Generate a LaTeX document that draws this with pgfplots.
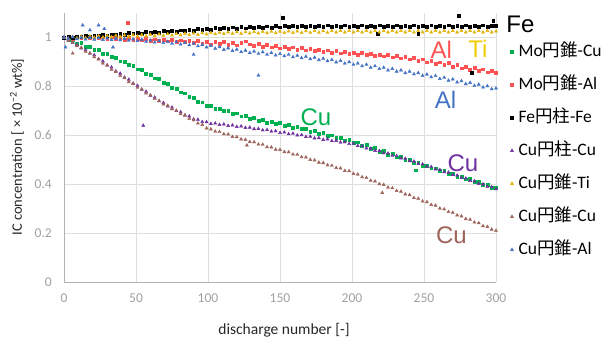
\documentclass[border=0pt]{standalone}
\usepackage{fontspec}
\setmainfont{Carlito}
\newfontfamily\cjk{Noto Sans CJK JP}
\newfontfamily\arial{Liberation Sans}
\usepackage{pgfplots}
\pgfplotsset{compat=1.18}
\definecolor{cgreen}{RGB}{0,176,80}
\definecolor{cred}{RGB}{255,82,82}
\definecolor{cpurple}{RGB}{112,48,160}
\definecolor{cgold}{RGB}{226,176,0}
\definecolor{cti}{RGB}{240,205,0}
\definecolor{cbrown}{RGB}{158,100,90}
\definecolor{cblue}{RGB}{68,114,196}
\definecolor{cgrid}{RGB}{222,222,222}
\definecolor{ctick}{RGB}{160,160,160}
\begin{document}
\begin{tikzpicture}
\useasboundingbox (0,0) rectangle (601pt,340pt);
\begin{axis}[
  at={(64pt,58pt)}, anchor=south west, scale only axis,
  width=432pt, height=269pt,
  xmin=0, xmax=300, ymin=0, ymax=1.1,
  xtick={0,50,100,150,200,250,300},
  xticklabels={0,50,100,150,200,250,300},
  ytick={0,0.2,0.4,0.6,0.8,1},
  yticklabels={0,0.2,0.4,0.6,0.8,1},
  axis lines*=left,
  axis line style={draw=cgrid!80!black, -},
  grid=major, grid style={cgrid, line width=0.8pt},
  major tick length=0pt,
  xticklabel style={font=\fontsize{13.5}{15}\selectfont, text=ctick, anchor=center, inner sep=0pt, yshift=-16pt},
  yticklabel style={font=\fontsize{13.5}{15}\selectfont, text=ctick, anchor=east, inner sep=0pt, xshift=-12pt},
  clip mode=individual,
  legend cell align=left,
  legend style={at={(1.026,0.896)}, anchor=north west, draw=none, fill=none,
    font=\fontsize{17.5}{19}\selectfont, row sep=16pt, column sep=4pt,
    nodes={inner sep=1pt, text height=12pt, text depth=3pt}},
  legend image code/.code={\draw[mark repeat=2,mark phase=2,#1] plot coordinates {(0pt,0pt) (4pt,0pt) (8pt,0pt)};},
]
% Mo cone - Cu
\addplot[only marks, mark=square*, mark size=1.4pt, color=cgreen] coordinates {
(0,1.000)(3,0.990)(6,0.990)(9,0.976)(12,0.977)(15,0.962)(18,0.963)(21,0.950)(24,0.949)(27,0.934)(30,0.933)(33,0.920)(36,0.918)(39,0.903)(42,0.902)(45,0.888)(48,0.886)(51,0.870)(54,0.867)(57,0.851)(60,0.849)(63,0.833)(66,0.830)(69,0.815)(72,0.811)(75,0.795)(78,0.792)(81,0.776)(84,0.772)(87,0.757)(90,0.753)(93,0.738)(96,0.735)(99,0.720)(102,0.720)(105,0.709)(108,0.710)(111,0.699)(114,0.701)(117,0.689)(120,0.690)(123,0.678)(126,0.680)(129,0.667)(132,0.671)(135,0.660)(138,0.664)(141,0.652)(144,0.657)(147,0.646)(150,0.650)(153,0.640)(156,0.643)(159,0.632)(162,0.636)(165,0.626)(168,0.628)(171,0.616)(174,0.618)(177,0.606)(180,0.609)(183,0.598)(186,0.600)(189,0.589)(192,0.591)(195,0.580)(198,0.582)(201,0.571)(204,0.572)(207,0.558)(210,0.560)(213,0.546)(216,0.548)(219,0.534)(222,0.536)(225,0.522)(228,0.524)(231,0.510)(234,0.512)(237,0.499)(240,0.500)(243,0.488)(246,0.488)(249,0.476)(252,0.477)(255,0.465)(258,0.465)(261,0.454)(264,0.454)(267,0.442)(270,0.443)(273,0.431)(276,0.432)(279,0.420)(282,0.421)(285,0.409)(288,0.410)(291,0.398)(294,0.399)(297,0.387)(300,0.385)(244,0.457)
};
\addlegendentry{Mo{\cjk 円錐}-Cu}
% Mo cone - Al
\addplot[only marks, mark=square*, mark size=1.4pt, color=cred] coordinates {
(0,1.000)(3,1.004)(6,0.996)(9,1.002)(12,0.998)(15,1.005)(18,0.997)(21,1.003)(24,0.999)(27,1.004)(30,0.996)(33,1.001)(36,0.994)(39,0.999)(42,0.992)(45,0.998)(48,0.991)(51,0.996)(54,0.989)(57,0.995)(60,0.988)(63,0.993)(66,0.986)(69,0.992)(72,0.985)(75,0.990)(78,0.983)(81,0.989)(84,0.982)(87,0.988)(90,0.980)(93,0.986)(96,0.975)(99,0.984)(102,0.972)(105,0.981)(108,0.974)(111,0.983)(114,0.970)(117,0.979)(120,0.968)(123,0.978)(126,0.985)(129,0.972)(132,0.966)(135,0.974)(138,0.962)(141,0.970)(144,0.960)(147,0.966)(150,0.956)(153,0.963)(156,0.953)(159,0.960)(162,0.950)(165,0.957)(168,0.948)(171,0.954)(174,0.945)(177,0.951)(180,0.942)(183,0.948)(186,0.939)(189,0.945)(192,0.936)(195,0.942)(198,0.933)(201,0.939)(204,0.930)(207,0.937)(210,0.928)(213,0.934)(216,0.926)(219,0.931)(222,0.923)(225,0.928)(228,0.919)(231,0.925)(234,0.915)(237,0.921)(240,0.911)(243,0.916)(246,0.905)(249,0.911)(252,0.899)(255,0.905)(258,0.893)(261,0.899)(264,0.887)(267,0.896)(270,0.882)(273,0.888)(276,0.874)(279,0.881)(282,0.869)(285,0.876)(288,0.864)(291,0.870)(294,0.858)(297,0.864)(300,0.855)(44,1.06)
};
\addlegendentry{Mo{\cjk 円錐}-Al}
% Fe cylinder - Fe
\addplot[only marks, mark=square*, mark size=1.4pt, color=black] coordinates {
(0,1.000)(3,1.003)(6,0.999)(9,1.004)(12,1.002)(15,1.007)(18,1.004)(21,1.009)(24,1.006)(27,1.011)(30,1.008)(33,1.013)(36,1.010)(39,1.015)(42,1.012)(45,1.018)(48,1.014)(51,1.020)(54,1.016)(57,1.022)(60,1.018)(63,1.024)(66,1.020)(69,1.026)(72,1.022)(75,1.028)(78,1.024)(81,1.030)(84,1.026)(87,1.032)(90,1.029)(93,1.035)(96,1.031)(99,1.037)(102,1.033)(105,1.039)(108,1.035)(111,1.041)(114,1.036)(117,1.042)(120,1.037)(123,1.043)(126,1.038)(129,1.044)(132,1.039)(135,1.045)(138,1.040)(141,1.046)(144,1.041)(147,1.047)(150,1.042)(153,1.048)(156,1.043)(159,1.048)(162,1.043)(165,1.049)(168,1.044)(171,1.049)(174,1.044)(177,1.049)(180,1.044)(183,1.050)(186,1.044)(189,1.049)(192,1.045)(195,1.050)(198,1.045)(201,1.049)(204,1.044)(207,1.050)(210,1.045)(213,1.049)(216,1.044)(219,1.050)(222,1.045)(225,1.049)(228,1.044)(231,1.050)(234,1.045)(237,1.049)(240,1.044)(243,1.050)(246,1.045)(249,1.049)(252,1.044)(255,1.050)(258,1.045)(261,1.049)(264,1.044)(267,1.050)(270,1.045)(273,1.049)(276,1.044)(279,1.050)(282,1.045)(285,1.049)(288,1.044)(291,1.050)(294,1.045)(297,1.049)(300,1.047)(152,1.08)(274,1.09)(298,1.07)(218,1.016)(246,1.016)(283,0.857)
};
\addlegendentry{Fe{\cjk 円柱}-Fe}
% Cu cylinder - Cu
\addplot[only marks, mark=triangle*, mark size=1.8pt, color=cpurple] coordinates {
(0,1.000)(3,0.992)(6,0.978)(9,0.970)(12,0.956)(15,0.949)(18,0.935)(21,0.928)(24,0.912)(27,0.903)(30,0.887)(33,0.878)(36,0.862)(39,0.853)(42,0.837)(45,0.828)(48,0.812)(51,0.803)(54,0.787)(57,0.779)(60,0.763)(63,0.755)(66,0.740)(69,0.733)(72,0.719)(75,0.714)(78,0.700)(81,0.695)(84,0.682)(87,0.678)(90,0.666)(93,0.664)(96,0.655)(99,0.654)(102,0.647)(105,0.649)(108,0.643)(111,0.645)(114,0.639)(117,0.641)(120,0.635)(123,0.637)(126,0.631)(129,0.632)(132,0.626)(135,0.627)(138,0.621)(141,0.622)(144,0.616)(147,0.617)(150,0.610)(153,0.612)(156,0.605)(159,0.607)(162,0.600)(165,0.601)(168,0.594)(171,0.595)(174,0.588)(177,0.589)(180,0.582)(183,0.584)(186,0.577)(189,0.578)(192,0.571)(195,0.572)(198,0.565)(201,0.566)(204,0.557)(207,0.556)(210,0.547)(213,0.546)(216,0.537)(219,0.536)(222,0.527)(225,0.526)(228,0.517)(231,0.516)(234,0.506)(237,0.505)(240,0.495)(243,0.493)(246,0.484)(249,0.482)(252,0.472)(255,0.471)(258,0.461)(261,0.459)(264,0.450)(267,0.448)(270,0.438)(273,0.436)(276,0.426)(279,0.424)(282,0.414)(285,0.412)(288,0.402)(291,0.400)(294,0.390)(297,0.388)(300,0.380)(55,0.64)
};
\addlegendentry{Cu{\cjk 円柱}-Cu}
% Cu cone - Ti
\addplot[only marks, mark=triangle*, mark size=1.8pt, color=cgold] coordinates {
(0,1.000)(3,0.996)(6,1.003)(9,0.998)(12,1.004)(15,0.999)(18,1.005)(21,1.000)(24,1.006)(27,1.001)(30,1.007)(33,1.002)(36,1.008)(39,1.003)(42,1.009)(45,1.004)(48,1.010)(51,1.005)(54,1.011)(57,1.006)(60,1.012)(63,1.007)(66,1.013)(69,1.008)(72,1.014)(75,1.009)(78,1.015)(81,1.010)(84,1.016)(87,1.011)(90,1.017)(93,1.012)(96,1.018)(99,1.013)(102,1.019)(105,1.014)(108,1.020)(111,1.015)(114,1.021)(117,1.016)(120,1.022)(123,1.016)(126,1.022)(129,1.017)(132,1.023)(135,1.017)(138,1.023)(141,1.018)(144,1.024)(147,1.018)(150,1.024)(153,1.019)(156,1.025)(159,1.019)(162,1.025)(165,1.019)(168,1.026)(171,1.020)(174,1.026)(177,1.020)(180,1.026)(183,1.020)(186,1.027)(189,1.021)(192,1.027)(195,1.021)(198,1.027)(201,1.021)(204,1.027)(207,1.021)(210,1.027)(213,1.021)(216,1.027)(219,1.021)(222,1.027)(225,1.021)(228,1.027)(231,1.021)(234,1.027)(237,1.021)(240,1.027)(243,1.021)(246,1.027)(249,1.021)(252,1.027)(255,1.021)(258,1.027)(261,1.021)(264,1.027)(267,1.021)(270,1.027)(273,1.021)(276,1.027)(279,1.021)(282,1.027)(285,1.021)(288,1.027)(291,1.021)(294,1.027)(297,1.021)(300,1.025)
};
\addlegendentry{Cu{\cjk 円錐}-Ti}
% Cu cone - Cu
\addplot[only marks, mark=triangle*, mark size=1.8pt, color=cbrown] coordinates {
(0,1.000)(3,0.987)(6,0.980)(9,0.965)(12,0.958)(15,0.942)(18,0.935)(21,0.920)(24,0.911)(27,0.894)(30,0.885)(33,0.869)(36,0.860)(39,0.843)(42,0.834)(45,0.818)(48,0.811)(51,0.795)(54,0.788)(57,0.772)(60,0.764)(63,0.749)(66,0.741)(69,0.727)(72,0.721)(75,0.707)(78,0.701)(81,0.687)(84,0.682)(87,0.668)(90,0.662)(93,0.649)(96,0.643)(99,0.629)(102,0.625)(105,0.616)(108,0.614)(111,0.605)(114,0.604)(117,0.594)(120,0.593)(123,0.584)(126,0.582)(129,0.573)(132,0.572)(135,0.563)(138,0.562)(141,0.552)(144,0.551)(147,0.542)(150,0.541)(153,0.532)(156,0.531)(159,0.522)(162,0.521)(165,0.511)(168,0.510)(171,0.500)(174,0.498)(177,0.489)(180,0.487)(183,0.478)(186,0.476)(189,0.467)(192,0.465)(195,0.455)(198,0.454)(201,0.443)(204,0.440)(207,0.429)(210,0.426)(213,0.415)(216,0.412)(219,0.401)(222,0.398)(225,0.387)(228,0.384)(231,0.373)(234,0.370)(237,0.359)(240,0.356)(243,0.344)(246,0.341)(249,0.330)(252,0.327)(255,0.316)(258,0.313)(261,0.301)(264,0.298)(267,0.287)(270,0.284)(273,0.273)(276,0.269)(279,0.258)(282,0.255)(285,0.244)(288,0.241)(291,0.229)(294,0.226)(297,0.215)(300,0.210)(6,0.935)(127,0.559)(221,0.365)
};
\addlegendentry{Cu{\cjk 円錐}-Cu}
% Cu cone - Al
\addplot[only marks, mark=triangle*, mark size=1.8pt, color=cblue] coordinates {
(0,1.000)(3,0.996)(6,1.002)(9,0.994)(12,1.000)(15,0.993)(18,0.999)(21,0.992)(24,0.998)(27,0.991)(30,0.997)(33,0.990)(36,0.996)(39,0.989)(42,0.995)(45,0.988)(48,0.993)(51,0.986)(54,0.991)(57,0.983)(60,0.988)(63,0.980)(66,0.986)(69,0.978)(72,0.983)(75,0.975)(78,0.981)(81,0.972)(84,0.978)(87,0.969)(90,0.975)(93,0.965)(96,0.970)(99,0.960)(102,0.966)(105,0.955)(108,0.961)(111,0.950)(114,0.956)(117,0.946)(120,0.951)(123,0.941)(126,0.947)(129,0.937)(132,0.943)(135,0.934)(138,0.940)(141,0.930)(144,0.937)(147,0.927)(150,0.933)(153,0.924)(156,0.930)(159,0.920)(162,0.926)(165,0.916)(168,0.922)(171,0.912)(174,0.918)(177,0.908)(180,0.914)(183,0.904)(186,0.909)(189,0.899)(192,0.905)(195,0.894)(198,0.900)(201,0.889)(204,0.894)(207,0.883)(210,0.889)(213,0.877)(216,0.883)(219,0.872)(222,0.877)(225,0.866)(228,0.872)(231,0.861)(234,0.866)(237,0.855)(240,0.861)(243,0.850)(246,0.855)(249,0.844)(252,0.849)(255,0.838)(258,0.843)(261,0.831)(264,0.836)(267,0.824)(270,0.829)(273,0.817)(276,0.822)(279,0.810)(282,0.815)(285,0.803)(288,0.808)(291,0.796)(294,0.801)(297,0.789)(300,0.792)(13,1.05)(24,1.05)(1,0.96)(34,0.96)(90,0.93)(135,0.845)(18,1.03)(28,1.035)
};
\addlegendentry{Cu{\cjk 円錐}-Al}
% in-plot labels
\node[font=\arial\fontsize{24}{26}\selectfont, text=black] at (axis cs:317,1.055) {Fe};
\node[font=\arial\fontsize{24}{26}\selectfont, text=cred] at (axis cs:262,0.951) {Al};
\node[font=\arial\fontsize{24}{26}\selectfont, text=cti] at (axis cs:287.5,0.955) {Ti};
\node[font=\arial\fontsize{24}{26}\selectfont, text=cblue] at (axis cs:265,0.747) {Al};
\node[font=\arial\fontsize{24}{26}\selectfont, text=cgreen] at (axis cs:175,0.673) {Cu};
\node[font=\arial\fontsize{24}{26}\selectfont, text=cpurple] at (axis cs:277,0.486) {Cu};
\node[font=\arial\fontsize{24}{26}\selectfont, text=cbrown] at (axis cs:269,0.19) {Cu};
\end{axis}
\node[font=\fontsize{15.5}{17}\selectfont, text=black!85] at (284pt,10pt) {discharge number [-]};
\node[rotate=90, font=\fontsize{14.5}{16}\selectfont, text=black!85] at (17pt,193pt) {IC concentration [ × 10\textsuperscript{−2} wt\%]};
\end{tikzpicture}
\end{document}
